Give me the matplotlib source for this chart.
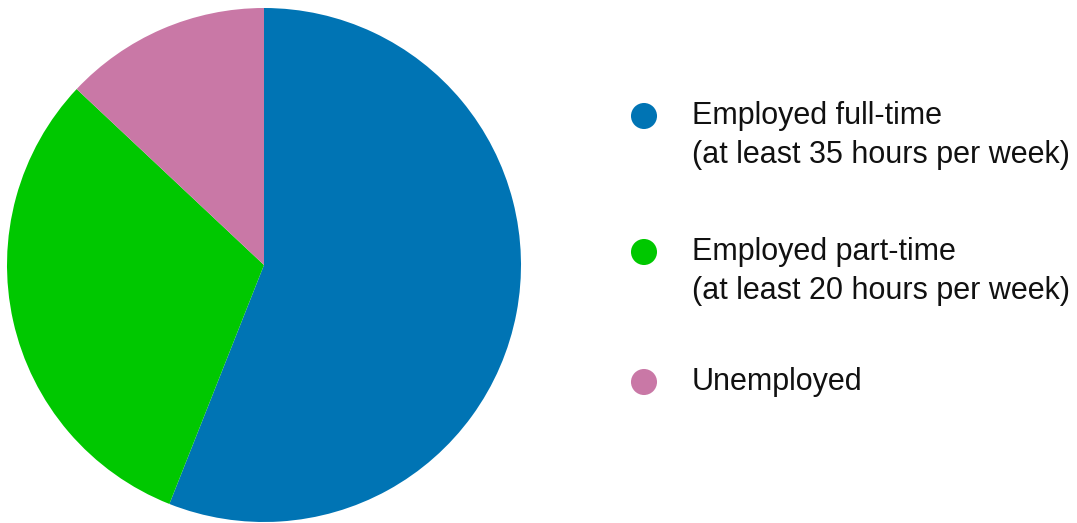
import matplotlib
matplotlib.use("Agg")
import matplotlib.pyplot as plt

categories = ["Employed full-time\n(at least 35 hours per week)",
              "Employed part-time\n(at least 20 hours per week)",
              "Unemployed"]
shares = [56, 31, 13]
colors = ["#0074B4", "#00C800", "#C978A6"]

W, H = 1077, 523
fig = plt.figure(figsize=(W / 100, H / 100), dpi=100)

# pie
ax = fig.add_axes([7 / W, 1 - 522 / H, 514 / W, 514 / H])
ax.pie(shares, colors=colors, startangle=90, counterclock=False,
       wedgeprops=dict(linewidth=0), radius=1)
ax.set_xlim(-1, 1)
ax.set_ylim(-1, 1)
ax.set_aspect("equal")
ax.axis("off")

# legend drawn in figure pixel space
lax = fig.add_axes([0, 0, 1, 1])
lax.set_xlim(0, W)
lax.set_ylim(H, 0)
lax.axis("off")
rows_y = [116, 252, 382]
for label, color, y in zip(categories, colors, rows_y):
    lax.scatter([644], [y], s=26 ** 2 * 0.52, color=color, edgecolors="none")
    lines = label.split("\n")
    for i, line in enumerate(lines):
        lax.text(692, y + i * 39, line, va="center", ha="left",
                 fontsize=22, family="Liberation Sans", color="#111111")

fig.savefig("out.png", dpi=100)
